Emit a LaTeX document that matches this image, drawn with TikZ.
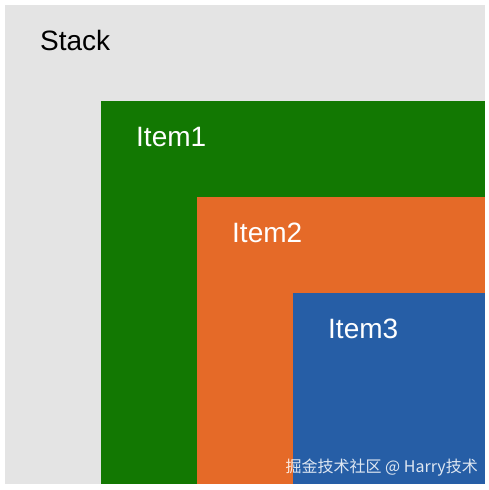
\documentclass[tikz,border=0pt]{standalone}
\usepackage{fontspec}
\setmainfont{Liberation Sans}
\newfontfamily\cjk{Noto Sans CJK SC}
\usetikzlibrary{positioning}

\definecolor{stackgray}{RGB}{228,228,228}
\definecolor{itemgreen}{RGB}{18,120,2}
\definecolor{itemorange}{RGB}{229,106,40}
\definecolor{itemblue}{RGB}{38,94,166}

\begin{document}
\begin{tikzpicture}[
        x=1pt, y=-1pt,
        label/.style={anchor=base west, inner sep=0pt, font=\fontsize{28}{33}\selectfont},
        panel/.style={draw=none}
        ]
        % --- nesting offsets ---
        \def\gap{96}   % step between nested boxes
        \def\pad{35}   % text inset
        \useasboundingbox (0,0) rectangle (488,490);

        % Boxes
        \fill[stackgray]  (5,5)           rectangle (485,484);
        \fill[itemgreen]  (5+\gap,5+\gap)     rectangle (485,484);
        \fill[itemorange] (5+2*\gap,5+2*\gap) rectangle (485,484);
        \fill[itemblue]   (5+3*\gap,5+3*\gap) rectangle (485,484);

        % Labels
        \node[label, text=black] (stack) at (5+\pad, 50)         {Stack};
        \node[label, text=white] (item1) at (5+\gap+\pad, 50+\gap)     {Item1};
        \node[label, text=white] (item2) at (5+2*\gap+\pad, 50+2*\gap) {Item2};
        \node[label, text=white] (item3) at (5+3*\gap+\pad, 50+3*\gap) {Item3};

        % Watermark
        \node[anchor=base east, inner sep=0pt, text=white, opacity=0.85,
              font=\cjk\fontsize{16}{18}\selectfont] (mark) at (478, 472) {掘金技术社区 @ Harry技术};
    \end{tikzpicture}
\end{document}
